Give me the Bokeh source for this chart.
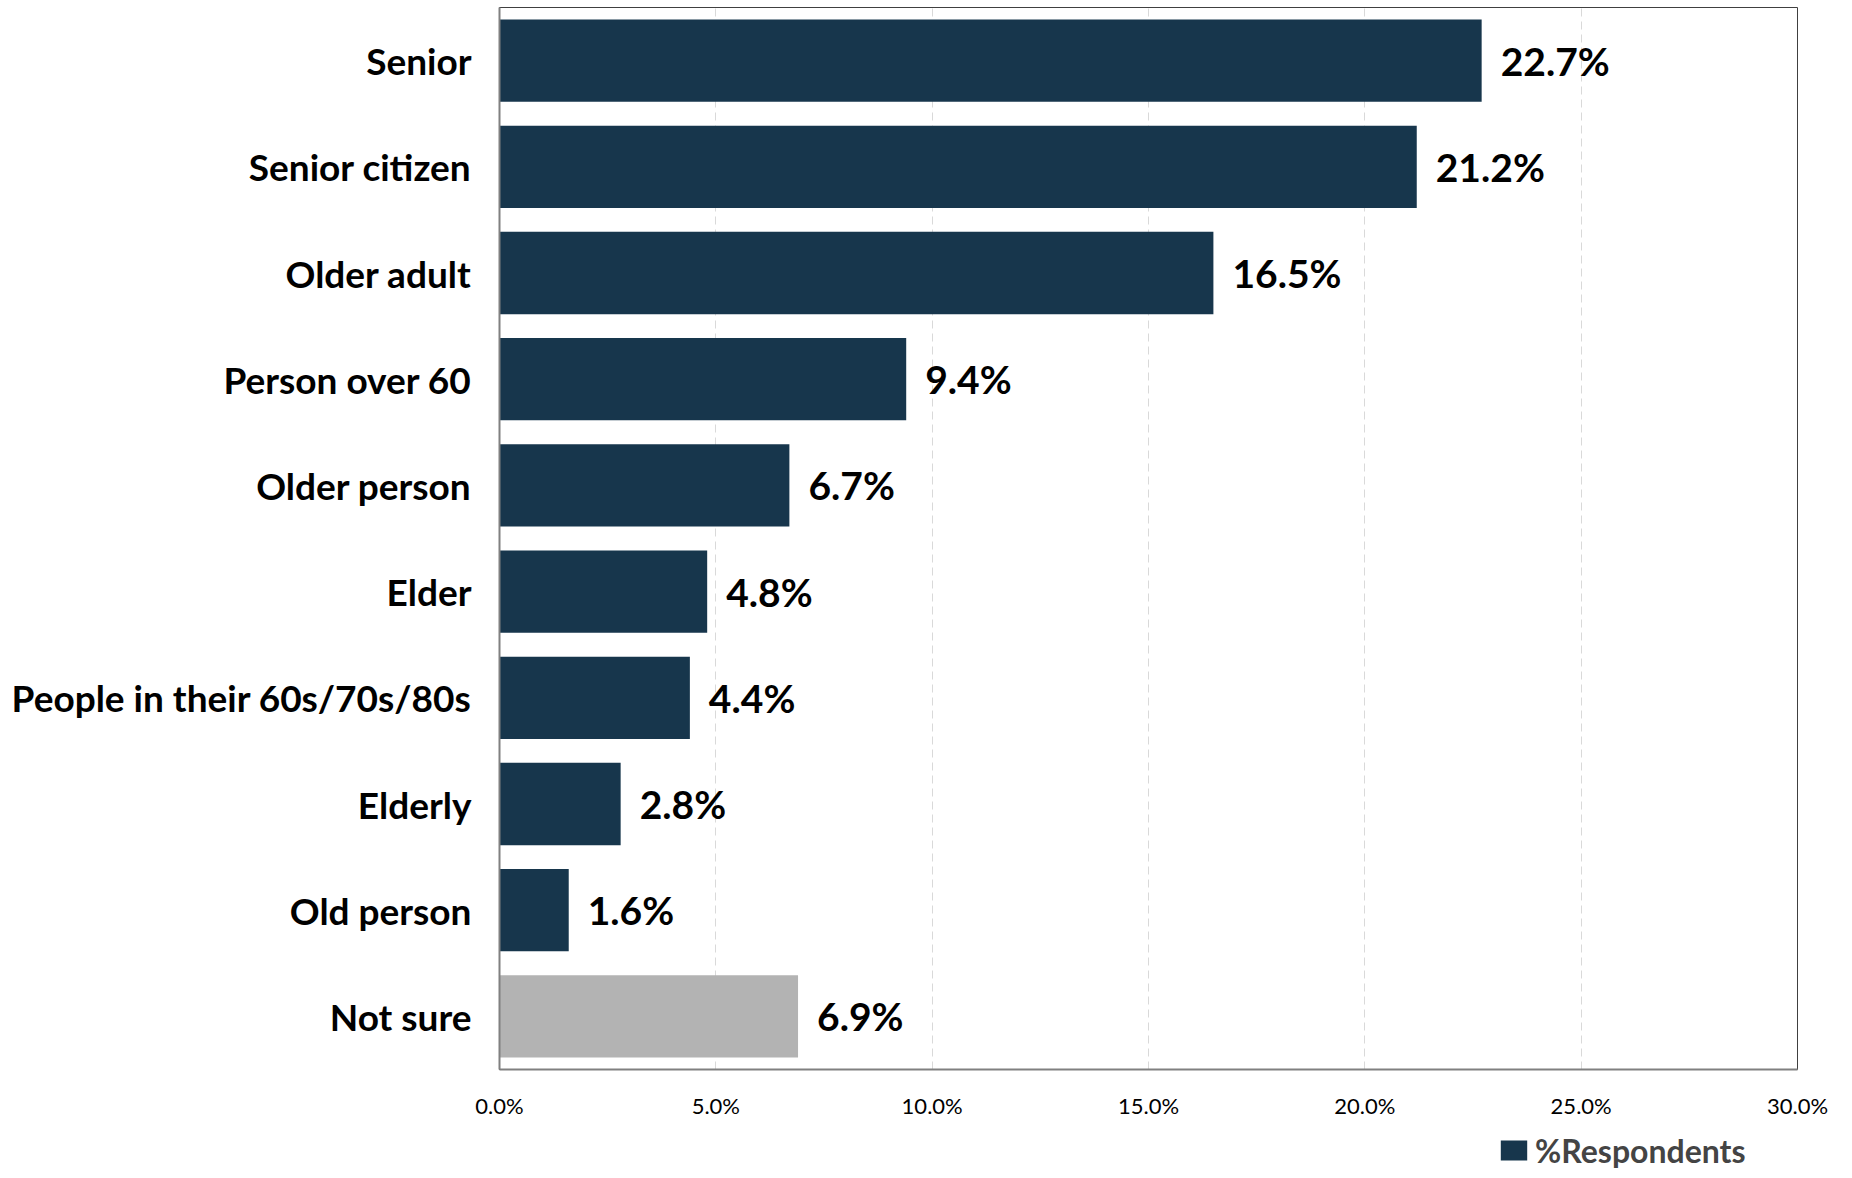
from bokeh.plotting import figure
from bokeh.layouts import column
from bokeh.models import ColumnDataSource, FactorRange, Range1d, PrintfTickFormatter, FixedTicker, Legend, LegendItem
from bokeh.core.properties import value
from bokeh.embed import file_html
from bokeh.resources import INLINE

categories = ["Senior", "Senior citizen", "Older adult", "Person over 60", "Older person",
              "Elder", "People in their 60s/70s/80s", "Elderly", "Old person", "Not sure"]
percent = [22.7, 21.2, 16.5, 9.4, 6.7, 4.8, 4.4, 2.8, 1.6, 6.9]
colors = ["#17364c"] * 9 + ["#b3b3b3"]
labels = [f"{v:.1f}%" for v in percent]
x_ticks = [0, 5, 10, 15, 20, 25, 30]
series_name = "%Respondents"

FONT = "Lato"

src = ColumnDataSource(dict(cat=categories, val=percent, color=colors, label=labels))

p = figure(frame_width=1298, frame_height=1062,
           output_backend="svg", toolbar_location=None,
           y_range=FactorRange(factors=list(reversed(categories)), range_padding=0),
           x_range=Range1d(0, 30),
           min_border_left=499, min_border_right=39, min_border_top=7, min_border_bottom=50)

r = p.hbar(y="cat", right="val", height=0.775, left=0, color="color", source=src, line_color=None)
p.text(x="val", y="cat", text="label", source=src, x_offset=19, text_baseline="middle",
       text_align="left", text_font=value(FONT), text_font_style="bold", text_font_size="39px",
       text_color="#000000")

p.xaxis.ticker = FixedTicker(ticks=x_ticks)
p.xaxis.formatter = PrintfTickFormatter(format="%.1f%%")
p.xaxis.major_label_text_font = FONT
p.xaxis.major_label_text_font_size = "22px"
p.xaxis.major_label_text_color = "#000000"
p.xaxis.major_label_standoff = 22
p.xaxis.major_tick_out = 0
p.xaxis.major_tick_in = 0
p.xaxis.major_tick_line_color = None
p.xaxis.minor_tick_line_color = None
p.xaxis.axis_line_color = "#808080"
p.xaxis.axis_line_width = 2

p.yaxis.major_label_text_font = FONT
p.yaxis.major_label_text_font_style = "bold"
p.yaxis.major_label_text_font_size = "37px"
p.yaxis.major_label_text_color = "#000000"
p.yaxis.major_label_standoff = 28
p.yaxis.major_tick_out = 0
p.yaxis.major_tick_in = 0
p.yaxis.major_tick_line_color = None
p.yaxis.minor_tick_line_color = None
p.yaxis.axis_line_color = "#808080"
p.yaxis.axis_line_width = 2

p.ygrid.grid_line_color = None
p.xgrid.ticker = FixedTicker(ticks=[5, 10, 15, 20, 25])
p.xgrid.grid_line_color = "#d9d9d9"
p.xgrid.grid_line_dash = "8 5"
p.xgrid.grid_line_width = 1

p.outline_line_color = "#404040"
p.outline_line_width = 1
p.background_fill_color = "#ffffff"
p.border_fill_color = "#ffffff"

# legend strip below the chart
lg = figure(width=1836, height=58, title=None, output_backend="svg", toolbar_location=None,
            x_range=Range1d(0, 30), y_range=FactorRange(factors=list(reversed(categories))),
            x_axis_location=None, y_axis_location=None,
            min_border_left=0, min_border_right=0, min_border_top=0, min_border_bottom=0)
lg.grid.visible = False
lg.outline_line_color = None
lr = lg.hbar(y="cat", right="val", height=0.775, left=0, color="color", source=src,
             line_color=None, visible=False)
legend = Legend(items=[LegendItem(label=series_name, renderers=[lr], index=0)],
                location="right", orientation="horizontal",
                label_text_font=FONT, label_text_font_style="bold", label_text_font_size="32px",
                glyph_width=33, glyph_height=25, label_standoff=5, label_width=262,
                padding=0, margin=0, spacing=0,
                border_line_color=None, background_fill_alpha=0)
lg.add_layout(legend, "center")

layout = column(p, lg, spacing=0)
open("out.html", "w").write(file_html(layout, INLINE))
